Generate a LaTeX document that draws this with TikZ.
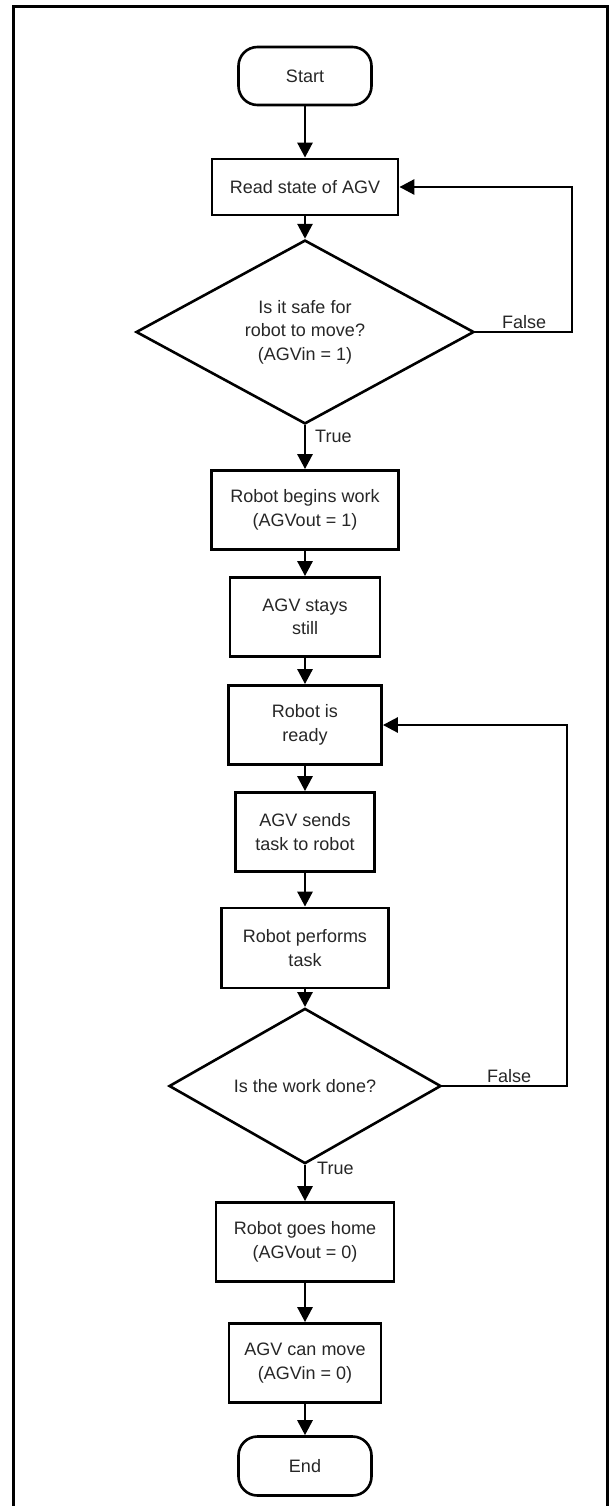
\documentclass[tikz,border=0pt]{standalone}
\usepackage{fontspec}
\setmainfont{Liberation Sans}
\usetikzlibrary{shapes.geometric,arrows.meta}
\begin{document}
\begin{tikzpicture}[x=1pt,y=-1pt,
  txt/.style={font=\fontsize{18}{23.5}\selectfont, text=black!85},
  procbox/.style={txt, draw=black, line width=2.8pt, rectangle, align=center, inner sep=0pt},
  termbox/.style={txt, draw=black, line width=2.6pt, rectangle, rounded corners=19pt, inner sep=0pt},
  decbox/.style={txt, draw=black, line width=2.6pt, diamond, align=center, inner sep=0pt},
  arr/.style={draw=black, line width=2.8pt, -{Triangle[length=15pt,width=15pt]}},
  lbl/.style={txt, inner sep=0pt}
]
\useasboundingbox (0,0) rectangle (613,1506);
\clip (0,0) rectangle (613,1506);
\draw[line width=3pt] (13,7) rectangle (607,1530);

\node[termbox, minimum width=133pt, minimum height=58pt] (start) at (305,76) {Start};
\node[procbox, minimum width=186pt, minimum height=56pt] (read) at (305,187) {Read state of AGV};
\node[decbox, minimum width=338pt, minimum height=168pt] (d1) at (305,332) {Is it safe for\\robot to move?\\(AGVin = 1)};
\node[procbox, minimum width=187pt, minimum height=79pt] (begin) at (305,510) {Robot begins work\\(AGVout = 1)};
\node[procbox, minimum width=150pt, minimum height=79pt] (still) at (305,617) {AGV stays\\still};
\node[procbox, minimum width=153pt, minimum height=79pt] (ready) at (305,725) {Robot is\\ready};
\node[procbox, minimum width=139pt, minimum height=79pt] (sends) at (305,832) {AGV sends\\task to robot};
\node[procbox, minimum width=167pt, minimum height=80pt] (perf) at (305,948) {Robot performs\\task};
\node[decbox, minimum width=272pt, minimum height=132pt] (d2) at (305,1086) {Is the work done?};
\node[procbox, minimum width=178pt, minimum height=79pt] (home) at (305,1242) {Robot goes home\\(AGVout = 0)};
\node[procbox, minimum width=152pt, minimum height=79pt] (can) at (305,1363) {AGV can move\\(AGVin = 0)};
\node[termbox, minimum width=133pt, minimum height=59pt] (end) at (305,1466) {End};

\coordinate (c1) at (572,187);
\coordinate (c2) at (567,725);

\draw[arr] (start) -- (read);
\draw[arr] (read) -- (d1);
\draw[arr] (d1) -- (begin);
\draw[arr] (begin) -- (still);
\draw[arr] (still) -- (ready);
\draw[arr] (ready) -- (sends);
\draw[arr] (sends) -- (perf);
\draw[arr] (perf) -- (d2);
\draw[arr] (d2) -- (home);
\draw[arr] (home) -- (can);
\draw[arr] (can) -- (end);
\draw[arr] (d1.east) -| (c1) -- (read.east);
\draw[arr] (d2.east) -| (c2) -- (ready.east);

\node[lbl, anchor=base west] (f1) at (502,328) {False};
\node[lbl, anchor=base west] (t1) at (315,442) {True};
\node[lbl, anchor=base west] (f2) at (487,1082) {False};
\node[lbl, anchor=base west] (t2) at (317,1174) {True};
\end{tikzpicture}
\end{document}
